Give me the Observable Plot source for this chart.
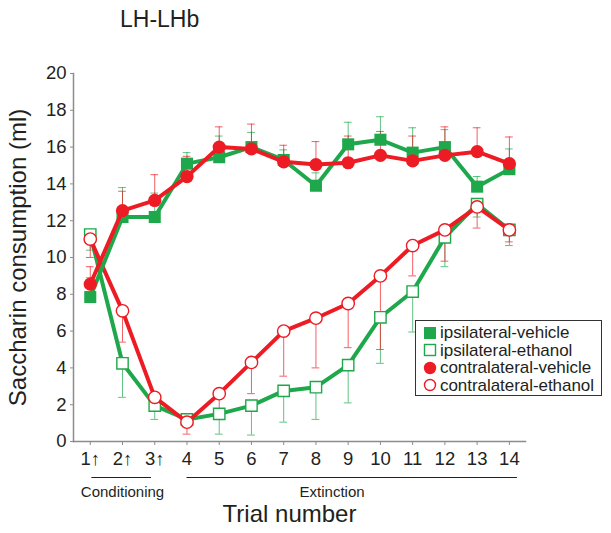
<!DOCTYPE html>
<html><head><meta charset="utf-8">
<script src="https://cdn.jsdelivr.net/npm/d3@7"></script>
<script src="https://cdn.jsdelivr.net/npm/@observablehq/plot@0.6"></script>
<style>
body{margin:0;background:#fff;font-family:"Liberation Sans",Arial,sans-serif;color:#231f20;}
#wrap{position:relative;width:611px;height:533px;overflow:hidden;}
#title{position:absolute;left:120px;top:6px;font-size:23px;}
#legend{position:absolute;left:415px;top:320px;width:187px;height:76px;border:1.5px solid #333;background:#fff;box-sizing:border-box;padding:3px 0 0 7px;}
.row{display:flex;align-items:center;height:17.5px;font-size:17px;line-height:17px;white-space:nowrap;letter-spacing:-0.05px;}
.row span{line-height:17px;}
.row svg{margin-right:3px;flex:none;}
</style></head>
<body><div id="wrap"><div id="title">LH-LHb</div><div id="chart"></div><div id="legend"></div></div>
<script>
const trials = [1,2,3,4,5,6,7,8,9,10,11,12,13,14];
const tickLabels = ["1\u2191","2\u2191","3\u2191","4","5","6","7","8","9","10","11","12","13","14"];
const yTicks = [0,2,4,6,8,10,12,14,16,18,20];
const seriesNames = ["ipsilateral-vehicle","ipsilateral-ethanol","contralateral-vehicle","contralateral-ethanol"];

const ipsiVeh     = [7.85,12.2,12.2,15.1,15.45,16.0,15.3,13.9,16.15,16.4,15.7,16.0,13.85,14.8];
const ipsiVehHi   = [8.9,13.8,13.5,15.7,16.6,16.8,15.85,14.6,17.35,17.65,17.05,16.95,14.4,15.9];
const contraVeh   = [8.55,12.55,13.1,14.4,16.0,15.9,15.2,15.05,15.15,15.55,15.25,15.55,15.75,15.1];
const contraVehHi = [9.5,13.6,14.5,15.5,17.1,17.25,16.1,16.3,16.6,16.85,16.6,17.1,17.05,16.55];
const ipsiEth     = [11.25,4.25,1.95,1.2,1.5,1.95,2.75,2.95,4.15,6.75,8.15,11.1,12.9,11.5];
const ipsiEthLo   = [10.4,2.4,1.2,0.8,0.4,0.35,1.05,1.2,2.1,4.25,5.95,9.5,12.2,10.65];
const contraEth   = [11.0,7.1,2.4,1.05,2.6,4.3,6.0,6.7,7.5,9.0,10.65,11.5,12.75,11.5];
const contraEthLo = [10.0,5.4,1.8,0.4,1.4,2.6,3.55,4.0,5.1,5.0,9.0,9.8,11.6,10.85];

const phaseLabels = ["Conditioning","Extinction"];
const phaseFrom = [1.05,4];
const phaseTo = [2.9,14.25];
const phaseLabelAt = [2.0,8.5];

const GREEN = "#1fa84b", RED = "#ed1c24";
const styles = {
  "ipsilateral-vehicle":   {color:GREEN, symbol:"square", fill:GREEN, r:6.8, sw:0},
  "ipsilateral-ethanol":   {color:GREEN, symbol:"square", fill:"white", r:6.4, sw:1.4},
  "contralateral-vehicle": {color:RED, symbol:"circle", fill:RED, r:6.6, sw:0},
  "contralateral-ethanol": {color:RED, symbol:"circle", fill:"white", r:6.2, sw:1.4}
};
const vals = {"ipsilateral-vehicle":[ipsiVeh,ipsiVehHi],"ipsilateral-ethanol":[ipsiEth,ipsiEthLo],
  "contralateral-vehicle":[contraVeh,contraVehHi],"contralateral-ethanol":[contraEth,contraEthLo]};
const data = [];
for (const s of seriesNames) trials.forEach((t,i)=>data.push({series:s, trial:t, value:vals[s][0][i], bound:vals[s][1][i]}));
const phases = phaseLabels.map((l,i)=>({label:l, from:phaseFrom[i], to:phaseTo[i], at:phaseLabelAt[i]}));

const drawOrder = ["ipsilateral-ethanol","contralateral-ethanol","ipsilateral-vehicle","contralateral-vehicle"];
const marks = [
  Plot.frame({anchor:"left", stroke:"#8c8c8c", strokeWidth:1.5}),
  Plot.frame({anchor:"bottom", stroke:"#8c8c8c", strokeWidth:1.5}),
  Plot.axisY({ticks:yTicks, tickSize:3, tickPadding:4, fontSize:18.5, label:null, stroke:"#8c8c8c", fill:"#231f20"}),
  Plot.axisX({ticks:trials, tickFormat:(d)=>tickLabels[trials.indexOf(d)], tickSize:4, tickPadding:6, fontSize:18.5, label:null, stroke:"#8c8c8c", fill:"#231f20"}),
  Plot.text(["Saccharin consumption (ml)"], {frameAnchor:"left", textAnchor:"middle", rotate:-90, dx:-55, fontSize:24, fill:"#231f20"}),
  Plot.text(["Trial number"], {frameAnchor:"bottom", textAnchor:"middle", dy:80, dx:-10, fontSize:24, fill:"#231f20"}),
  Plot.ruleY(phases, {x1:"from", x2:"to", y:0, dy:36, stroke:"#231f20", strokeWidth:1.2}),
  Plot.text(phases, {x:"at", y:0, dy:51, text:"label", fontSize:15, fill:"#231f20"})
];
for (const s of drawOrder) {
  const st = styles[s];
  const d = data.filter(r=>r.series===s);
  marks.push(Plot.ruleX(d, {x:"trial", y1:"value", y2:"bound", stroke:st.color, strokeWidth:1, strokeOpacity:0.7}));
  marks.push(Plot.ruleY(d, {y:"bound", x1:r=>r.trial-0.12, x2:r=>r.trial+0.12, stroke:st.color, strokeWidth:1, strokeOpacity:0.7}));
}
for (const s of drawOrder) {
  const st = styles[s];
  const d = data.filter(r=>r.series===s);
  marks.push(Plot.line(d, {x:"trial", y:"value", stroke:st.color, strokeWidth:4}));
  marks.push(Plot.dot(d, {x:"trial", y:"value", symbol:st.symbol, r:st.r, fill:st.fill, stroke:st.color, strokeWidth:st.sw}));
}

const chart = Plot.plot({
  width:611, height:533, marginLeft:73, marginRight:86, marginTop:73, marginBottom:92,
  x:{domain:[0.48,14.5]}, y:{domain:[0,20]},
  style:{fontFamily:"'Liberation Sans', Arial, sans-serif", color:"#231f20", overflow:"visible", background:"white"},
  marks
});
document.getElementById("chart").appendChild(chart);

const lg = document.getElementById("legend");
for (const s of seriesNames) {
  const st = styles[s];
  const row = document.createElement("div"); row.className="row";
  let icon;
  if (st.symbol==="square") icon = `<svg width="14" height="14"><rect x="${st.sw?1.5:1}" y="${st.sw?1.5:1}" width="${st.sw?11:12}" height="${st.sw?11:12}" fill="${st.fill}" stroke="${st.color}" stroke-width="${st.sw}"/></svg>`;
  else icon = `<svg width="14" height="14"><circle cx="7" cy="7" r="${st.sw?5.5:6.2}" fill="${st.fill}" stroke="${st.color}" stroke-width="${st.sw}"/></svg>`;
  row.innerHTML = icon + `<span>${s}</span>`;
  lg.appendChild(row);
}
</script></body></html>
